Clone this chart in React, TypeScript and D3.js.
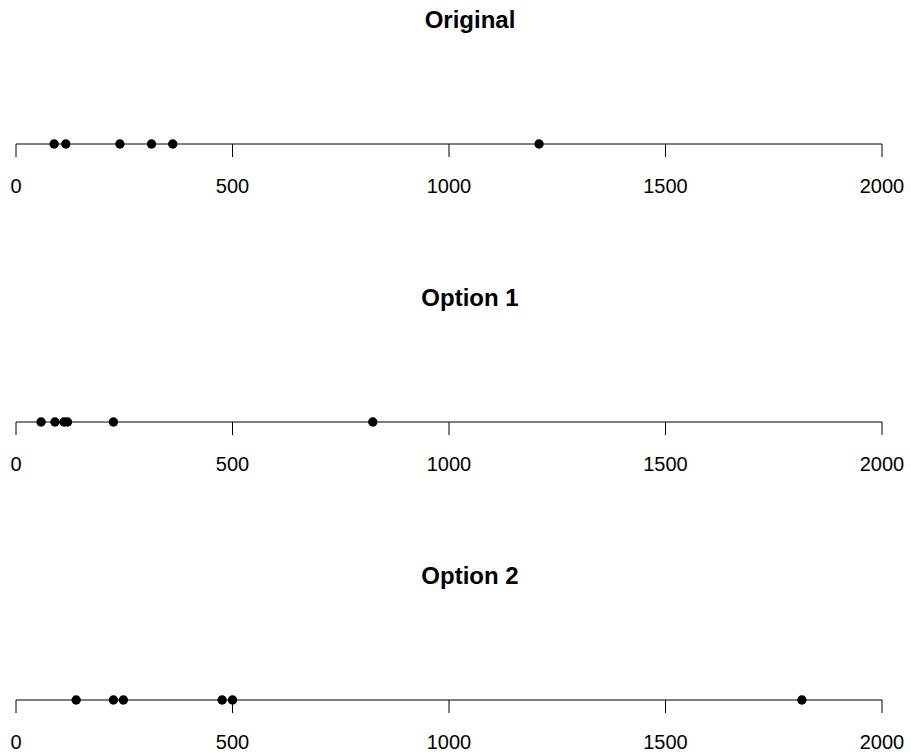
import React from "react";
import * as d3 from "d3";

const titles = ["Original", "Option 1", "Option 2"];
const original = [88, 115, 240, 313, 362, 1208];
const option1 = [58, 90, 111, 119, 225, 824];
const option2 = [139, 225, 248, 476, 500, 1815];
const series = [original, option1, option2];
const tickValues = [0, 500, 1000, 1500, 2000];

export default function App() {
  const W = 911, H = 756;
  const x = d3.scaleLinear().domain([0, 2000]).range([16, 882]);
  const axisY = [144, 422, 700];
  const titleY = [28, 306, 584];
  const font = "Liberation Sans, Arial, Helvetica, sans-serif";
  return (
    <svg width={W} height={H} style={{ position: "absolute", left: 0, top: 0, background: "#fff" }}>
      {series.map((vals, i) => {
        const y = axisY[i];
        return (
          <g key={i}>
            <text x={470} y={titleY[i]} textAnchor="middle" fontFamily={font} fontWeight="bold" fontSize={24}>
              {titles[i]}
            </text>
            <line x1={x(0)} x2={x(2000)} y1={y} y2={y} stroke="#000" strokeWidth={1} />
            {tickValues.map((t) => (
              <g key={t}>
                <line x1={x(t)} x2={x(t)} y1={y} y2={y + 13} stroke="#000" strokeWidth={1} />
                <text x={x(t)} y={y + 49} textAnchor="middle" fontFamily={font} fontSize={20}>
                  {t}
                </text>
              </g>
            ))}
            {vals.map((v, j) => (
              <circle key={j} cx={x(v)} cy={y} r={4.7} fill="#000" />
            ))}
          </g>
        );
      })}
    </svg>
  );
}
